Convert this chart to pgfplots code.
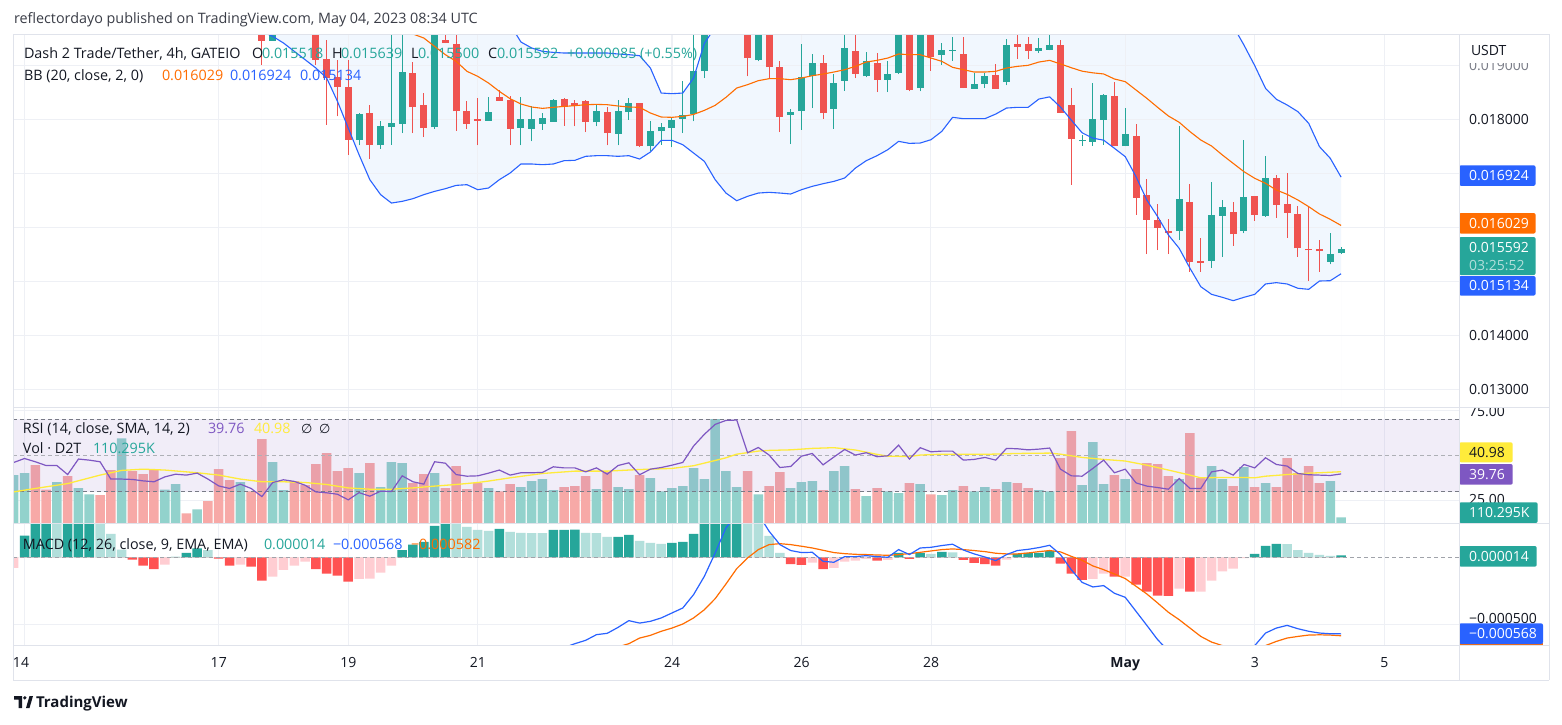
\documentclass[border=0pt]{standalone}
\usepackage{fontspec}
\setmainfont{Open Sans}
\newfontfamily\dejavu{DejaVu Sans}
\usepackage{pgfplots}
\usepackage{pgfplotstable}
\pgfplotsset{compat=1.18}

\definecolor{tvup}{HTML}{26A69A}
\definecolor{tvdn}{HTML}{EF5350}
\definecolor{tvtext}{HTML}{131722}
\definecolor{hdrgray}{HTML}{3A3D47}
\definecolor{tvgrid}{HTML}{EEF0F5}
\definecolor{tvsep}{HTML}{E0E3EB}
\definecolor{bbblue}{HTML}{2962FF}
\definecolor{bborange}{HTML}{FF6D00}
\definecolor{bbf}{HTML}{F1F7FE}
\definecolor{rsipurple}{HTML}{7E57C2}
\definecolor{rsiyellow}{HTML}{FFEB3B}
\definecolor{volup}{HTML}{92D2CC}
\definecolor{voldn}{HTML}{F7A9A7}
\definecolor{hdt}{HTML}{26A69A}
\definecolor{hlt}{HTML}{B2DFDB}
\definecolor{hrd}{HTML}{FF5252}
\definecolor{hpk}{HTML}{FFCDD2}
\definecolor{dashgray}{HTML}{787B86}

\newcommand\fs{\fontsize{14}{16}\selectfont}
\newcommand\fl{\fontsize{14.35}{16}\selectfont}

\pgfplotsset{
  tvbase/.style={
    scale only axis, width=1446pt, xmin=-1.0656, xmax=132.93,
    axis line style={draw=none}, xtick=\empty, ytick=\empty,
    anchor=north west, clip=true
  }
}

% candles: index (4h bars from Apr 14 00:00), open, high, low, close
\pgfplotstableread{
i o h l c
22 0.019620 0.019680 0.019006 0.019450
23 0.019450 0.019700 0.019450 0.019650
24 0.019650 0.019900 0.019620 0.019850
25 0.019850 0.019950 0.019700 0.019750
26 0.019750 0.019800 0.019600 0.019650
27 0.019650 0.019700 0.019006 0.019099
28 0.019111 0.019469 0.017895 0.018759
29 0.018771 0.019099 0.018049 0.018592
30 0.018592 0.019099 0.017339 0.017617
31 0.017617 0.018110 0.017512 0.018092
32 0.018111 0.018253 0.017265 0.017512
33 0.017512 0.017957 0.017450 0.017864
34 0.017852 0.019600 0.017524 0.017926
35 0.017913 0.019600 0.017740 0.018870
36 0.018852 0.019049 0.017740 0.018222
37 0.018259 0.018481 0.017666 0.017833
38 0.017845 0.019700 0.017821 0.019650
39 0.019469 0.019650 0.019407 0.019407
40 0.019389 0.019620 0.017784 0.018142
41 0.018148 0.018339 0.017821 0.017913
42 0.018006 0.018389 0.017512 0.017969
43 0.017969 0.018407 0.017969 0.018129
44 0.018407 0.018531 0.018339 0.018339
45 0.018358 0.018420 0.017512 0.017821
46 0.017833 0.018407 0.017512 0.018000
47 0.017821 0.018234 0.017586 0.018000
48 0.017913 0.018111 0.017802 0.018018
49 0.017950 0.018376 0.017950 0.018358
50 0.018370 0.018389 0.017876 0.018222
51 0.018296 0.018358 0.017864 0.018234
52 0.018333 0.018358 0.017759 0.017944
53 0.017938 0.018253 0.017864 0.018148
54 0.018129 0.018216 0.017512 0.017740
55 0.017728 0.018358 0.017512 0.018148
56 0.018123 0.018389 0.017987 0.018296
57 0.018296 0.018300 0.017490 0.017494
58 0.017494 0.017957 0.017413 0.017771
59 0.017771 0.017926 0.017524 0.017852
60 0.017839 0.018031 0.017475 0.017981
61 0.018006 0.018710 0.017740 0.018068
62 0.018092 0.019600 0.017957 0.018895
63 0.018883 0.019700 0.018759 0.019650
64 0.019650 0.020100 0.019600 0.020000
65 0.020000 0.020300 0.019900 0.020200
66 0.019900 0.020300 0.019800 0.020100
67 0.019800 0.019850 0.018790 0.019129
68 0.019086 0.019700 0.019068 0.019650
69 0.019650 0.019700 0.018759 0.018963
70 0.018963 0.019068 0.017759 0.018037
71 0.018080 0.018185 0.017537 0.018129
72 0.018148 0.019395 0.017802 0.018778
73 0.018802 0.019204 0.018203 0.019037
74 0.019037 0.019179 0.018006 0.018111
75 0.018191 0.018839 0.017821 0.018666
76 0.018710 0.019600 0.018524 0.019315
77 0.019253 0.019600 0.018759 0.018839
78 0.018790 0.019241 0.018771 0.019068
79 0.019037 0.019222 0.018500 0.018728
80 0.018728 0.019080 0.018500 0.018833
81 0.018852 0.019700 0.018833 0.019650
82 0.019650 0.019700 0.018512 0.018543
83 0.018574 0.019700 0.018512 0.019650
84 0.019650 0.019700 0.018895 0.019148
85 0.019191 0.019407 0.019006 0.019271
86 0.019265 0.019518 0.019080 0.019278
87 0.019204 0.019518 0.018570 0.018574
88 0.018562 0.018852 0.018560 0.018648
89 0.018648 0.018852 0.018574 0.018790
90 0.018808 0.019018 0.018560 0.018562
91 0.018685 0.019481 0.018623 0.019364
92 0.019389 0.019600 0.019117 0.019339
93 0.019389 0.019518 0.019117 0.019265
94 0.019265 0.019500 0.019222 0.019315
95 0.019284 0.019600 0.019271 0.019364
96 0.019364 0.019457 0.018111 0.018115
97 0.018257 0.018571 0.016780 0.017633
98 0.017590 0.017710 0.017506 0.017600
99 0.017578 0.018664 0.017506 0.018000
100 0.017985 0.018466 0.017522 0.018448
101 0.018426 0.018692 0.017495 0.017502
102 0.017500 0.018198 0.017495 0.017723
103 0.017686 0.017908 0.016223 0.016544
104 0.016593 0.016889 0.015500 0.016130
105 0.016130 0.016426 0.015574 0.015988
106 0.015926 0.016148 0.015500 0.015895
107 0.015926 0.017871 0.015760 0.016519
108 0.016457 0.016797 0.015173 0.015358
109 0.015371 0.015790 0.015173 0.015340
110 0.015371 0.016828 0.015247 0.016223
111 0.016210 0.016500 0.015451 0.016377
112 0.016272 0.016457 0.015655 0.015865
113 0.015926 0.017612 0.015883 0.016562
114 0.016574 0.016580 0.016118 0.016223
115 0.016210 0.017315 0.016192 0.016902
116 0.016902 0.016963 0.016173 0.016408
117 0.016426 0.016994 0.015803 0.016266
118 0.016241 0.016395 0.015451 0.015605
119 0.015593 0.016377 0.015006 0.015568
120 0.015593 0.015760 0.015173 0.015550
121 0.015358 0.015883 0.015309 0.015500
122 0.015518 0.015639 0.015500 0.015592
}\candles

% Bollinger bands: upper, basis, lower
\pgfplotstableread{
i u m l
22 0.021000 0.020300 0.019620
23 0.021000 0.020250 0.019531
24 0.021000 0.020200 0.019407
25 0.021000 0.020150 0.019253
26 0.021000 0.020100 0.019099
27 0.021000 0.020050 0.018944
28 0.021000 0.020000 0.018759
29 0.021000 0.019950 0.018327
30 0.021000 0.019900 0.017833
31 0.021000 0.019850 0.017339
32 0.021000 0.019800 0.016876
33 0.021000 0.019750 0.016599
34 0.021000 0.019700 0.016444
35 0.021000 0.019650 0.016475
36 0.021000 0.019574 0.016525
37 0.021000 0.019500 0.016599
38 0.021000 0.019345 0.016660
39 0.021000 0.019191 0.016710
40 0.021000 0.019068 0.016771
41 0.021000 0.018883 0.016784
42 0.020900 0.018790 0.016691
43 0.020600 0.018666 0.016722
44 0.020148 0.018512 0.016876
45 0.019752 0.018376 0.017000
46 0.019426 0.018278 0.017167
47 0.019315 0.018222 0.017167
48 0.019253 0.018197 0.017154
49 0.019234 0.018216 0.017167
50 0.019222 0.018234 0.017228
51 0.019222 0.018247 0.017235
52 0.019222 0.018265 0.017309
53 0.019222 0.018271 0.017321
54 0.019222 0.018265 0.017321
55 0.019204 0.018241 0.017309
56 0.019191 0.018222 0.017321
57 0.019173 0.018216 0.017259
58 0.018944 0.018111 0.017389
59 0.018481 0.018037 0.017605
60 0.018469 0.018031 0.017605
61 0.018481 0.018049 0.017524
62 0.018759 0.018085 0.017370
63 0.019400 0.018160 0.017216
64 0.019700 0.018253 0.016876
65 0.020173 0.018401 0.016629
66 0.020661 0.018574 0.016487
67 0.020704 0.018636 0.016568
68 0.020791 0.018710 0.016629
69 0.020852 0.018747 0.016642
70 0.020865 0.018747 0.016629
71 0.020845 0.018728 0.016611
72 0.020827 0.018759 0.016691
73 0.020851 0.018802 0.016753
74 0.020864 0.018833 0.016802
75 0.020895 0.018870 0.016845
76 0.020919 0.018913 0.016907
77 0.020858 0.018975 0.017092
78 0.020882 0.019055 0.017228
79 0.020851 0.019086 0.017321
80 0.020826 0.019129 0.017432
81 0.020822 0.019204 0.017586
82 0.020833 0.019191 0.017549
83 0.020827 0.019191 0.017555
84 0.020641 0.019129 0.017617
85 0.020365 0.019068 0.017771
86 0.019883 0.018957 0.018031
87 0.019820 0.018913 0.018006
88 0.019734 0.018870 0.018006
89 0.019734 0.018870 0.018006
90 0.019674 0.018883 0.018092
91 0.019685 0.018944 0.018203
92 0.019734 0.018975 0.018216
93 0.019772 0.018994 0.018216
94 0.019740 0.019055 0.018370
95 0.019765 0.019086 0.018410
96 0.019820 0.019020 0.018220
97 0.019920 0.018950 0.017980
98 0.020020 0.018886 0.017745
99 0.020050 0.018855 0.017645
100 0.020045 0.018834 0.017608
101 0.020025 0.018741 0.017457
102 0.020081 0.018692 0.017303
103 0.020142 0.018537 0.016932
104 0.020266 0.018383 0.016500
105 0.020240 0.018216 0.016192
106 0.020260 0.018056 0.015852
107 0.020273 0.017939 0.015605
108 0.020297 0.017766 0.015235
109 0.020327 0.017611 0.014895
110 0.020247 0.017500 0.014753
111 0.019970 0.017334 0.014698
112 0.019722 0.017179 0.014636
113 0.019370 0.017025 0.014698
114 0.018988 0.016902 0.014753
115 0.018568 0.016809 0.014945
116 0.018365 0.016686 0.014970
117 0.018260 0.016605 0.014945
118 0.018136 0.016500 0.014865
119 0.017920 0.016377 0.014846
120 0.017488 0.016241 0.015000
121 0.017272 0.016142 0.015006
122 0.016924 0.016029 0.015134
}\bb

% volume in thousands, u=1 up bar
\pgfplotstableread{
i v u
-1 883 1
0 920 1
1 1067 0
2 619 0
3 754 1
4 864 0
5 644 1
6 533 1
7 515 0
8 975 0
9 1557 1
10 956 0
11 901 0
12 975 0
13 619 1
14 717 1
15 184 0
16 257 1
17 405 0
18 993 0
19 791 0
20 754 1
21 588 0
22 1545 0
23 1122 1
24 607 1
25 772 0
26 699 0
27 1085 0
28 1287 0
29 956 0
30 1011 0
31 920 1
32 1103 0
33 662 1
34 1122 1
35 1103 1
36 736 0
37 901 0
38 920 1
39 644 0
40 1048 0
41 625 0
42 736 0
43 644 1
44 588 0
45 717 0
46 662 1
47 772 1
48 809 1
49 607 1
50 662 0
51 680 0
52 864 0
53 625 1
54 938 0
55 662 1
56 625 1
57 883 0
58 828 1
59 588 1
60 644 1
61 680 1
62 1011 1
63 809 1
64 1913 1
65 956 1
66 662 1
67 956 0
68 533 1
69 680 0
70 938 0
71 644 1
72 754 1
73 772 1
74 607 0
75 956 1
76 1048 1
77 625 0
78 497 1
79 644 0
80 588 1
81 552 1
82 736 0
83 717 1
84 533 0
85 515 1
86 607 1
87 680 0
88 588 1
89 662 1
90 625 0
91 754 1
92 736 0
93 644 0
94 607 1
95 588 1
96 1195 0
97 1692 0
98 699 1
99 1490 1
100 717 1
101 883 0
102 809 1
103 993 0
104 1103 0
105 1085 0
106 864 0
107 809 1
108 1655 0
109 828 0
110 1048 1
111 809 1
112 680 0
113 1030 1
114 662 0
115 736 1
116 662 0
117 1195 0
118 920 0
119 1048 0
120 736 0
121 772 1
122 110.295 1
}\vol

\pgfplotstableread{
i r
-1 46.1
0 48.3
1 46.5
2 44.4
3 44.4
4 39.4
5 48.0
6 47.4
7 46.5
8 36.9
9 36.9
10 36.7
11 35.9
12 35.4
13 38.1
14 39.6
15 39.1
16 40.2
17 36.9
18 33.1
19 31.7
20 34.1
21 31.7
22 27.2
23 35.0
24 36.5
25 35.6
26 33.5
27 29.8
28 29.3
29 28.5
30 25.4
31 29.4
32 27.4
33 30.2
34 30.0
35 38.7
36 35.4
37 34.1
38 46.5
39 45.7
40 39.4
41 38.5
42 38.7
43 40.2
44 41.9
45 39.1
46 40.4
47 40.4
48 40.6
49 43.7
50 43.1
51 43.1
52 40.9
53 43.1
54 39.6
55 44.4
56 45.9
57 39.3
58 42.4
59 43.3
60 44.6
61 46.1
62 55.2
63 61.7
64 67.2
65 69.4
66 69.6
67 51.5
68 54.4
69 50.2
70 43.3
71 43.9
72 49.6
73 51.1
74 44.8
75 49.1
76 53.3
77 50.2
78 51.5
79 49.3
80 49.8
81 55.7
82 48.0
83 54.3
84 52.0
85 52.4
86 52.4
87 47.4
88 47.8
89 48.9
90 47.4
91 53.9
92 53.7
93 53.1
94 53.5
95 54.1
96 42.4
97 38.7
98 38.5
99 42.8
100 47.4
101 40.4
102 42.4
103 34.8
104 33.0
105 32.2
106 31.3
107 37.2
108 31.7
109 31.7
110 40.9
111 41.9
112 39.1
113 45.0
114 43.1
115 48.7
116 45.0
117 44.1
118 40.0
119 39.3
120 39.1
121 38.9
122 39.76
}\rsi

\pgfplotstableread{
i s
-1 29.8
1 31.7
4 34.4
7 39.1
9 41.7
11 42.4
13 41.9
16 40.4
18 39.1
20 36.9
22 35.4
24 35.4
26 35.0
28 33.9
30 32.0
32 31.3
34 31.3
36 32.0
38 33.0
40 33.9
42 35.0
43 35.8
45 37.6
48 40.0
51 41.3
54 41.3
57 42.2
60 42.8
62 44.3
64 47.2
65 48.7
66 50.7
68 52.4
69 52.8
71 53.1
73 53.9
75 54.3
77 53.0
79 50.6
80 49.6
82 49.4
83 50.2
85 50.7
86 50.7
89 50.6
92 51.1
95 51.3
96 50.7
98 48.9
100 47.8
102 46.9
104 44.6
106 41.9
108 39.1
109 37.6
111 37.8
113 37.8
114 37.6
115 38.5
117 39.4
119 40.2
120 40.4
122 40.98
}\sma

% MACD histogram, k: 1 rising>0, 2 falling>0, 3 falling<0, 4 rising<0
\pgfplotstableread{
i v k
-1 -0.000079 4
0 0.000161 1
1 0.000270 1
2 0.000300 1
3 0.000280 2
4 0.000300 1
5 0.000320 1
6 0.000340 1
7 0.000260 2
8 0.000173 2
9 0.000057 2
10 -0.000017 3
11 -0.000062 3
12 -0.000087 3
13 -0.000054 4
14 0.000003 1
15 0.000032 1
16 0.000067 1
17 0.000054 2
18 -0.000010 3
19 -0.000062 3
20 -0.000054 4
21 -0.000069 3
22 -0.000173 3
23 -0.000144 4
24 -0.000094 4
25 -0.000062 4
26 -0.000032 4
27 -0.000087 3
28 -0.000121 3
29 -0.000136 3
30 -0.000181 3
31 -0.000161 4
32 -0.000159 4
33 -0.000114 4
34 -0.000062 4
35 0.000054 1
36 0.000094 1
37 0.000114 1
38 0.000233 1
39 0.000270 1
40 0.000260 2
41 0.000225 2
42 0.000203 2
43 0.000196 2
44 0.000210 1
45 0.000188 2
46 0.000181 2
47 0.000180 2
48 0.000179 2
49 0.000203 1
50 0.000204 1
51 0.000205 1
52 0.000181 2
53 0.000180 2
54 0.000151 2
55 0.000152 1
56 0.000166 1
57 0.000121 2
58 0.000106 2
59 0.000099 2
60 0.000106 1
61 0.000114 1
62 0.000173 1
63 0.000280 1
64 0.000320 1
65 0.000350 1
66 0.000384 1
67 0.000335 2
68 0.000263 2
69 0.000158 2
70 0.000032 2
71 -0.000050 3
72 -0.000057 3
73 -0.000040 4
74 -0.000087 3
75 -0.000079 4
76 -0.000032 4
77 -0.000025 4
78 -0.000012 4
79 -0.000025 3
80 -0.000020 4
81 0.000032 1
82 -0.000012 3
83 0.000032 1
84 0.000025 2
85 0.000040 1
86 0.000037 2
87 -0.000020 3
88 -0.000042 3
89 -0.000050 3
90 -0.000062 3
91 -0.000017 4
92 0.000025 1
93 0.000032 1
94 0.000033 1
95 0.000045 1
96 -0.000047 3
97 -0.000121 3
98 -0.000168 3
99 -0.000161 4
100 -0.000121 4
101 -0.000144 3
102 -0.000143 4
103 -0.000203 3
104 -0.000255 3
105 -0.000285 3
106 -0.000286 3
107 -0.000233 4
108 -0.000255 3
109 -0.000254 4
110 -0.000173 4
111 -0.000104 4
112 -0.000084 4
113 -0.000007 4
114 0.000025 1
115 0.000084 1
116 0.000099 1
117 0.000098 2
118 0.000054 2
119 0.000032 2
120 0.000017 2
121 0.000010 2
122 0.000014 1
}\hist

% MACD line m and signal s
\pgfplotstableread{
i m s
50 -0.000670 -0.000800
51 -0.000641 -0.000780
52 -0.000616 -0.000750
53 -0.000574 -0.000720
54 -0.000564 -0.000690
55 -0.000520 -0.000665
56 -0.000470 -0.000641
57 -0.000488 -0.000599
58 -0.000475 -0.000579
59 -0.000450 -0.000549
60 -0.000413 -0.000525
61 -0.000376 -0.000495
62 -0.000277 -0.000450
63 -0.000141 -0.000389
64 0.000032 -0.000307
65 0.000218 -0.000198
66 0.000320 -0.000084
67 0.000340 -0.000005
68 0.000320 0.000057
69 0.000193 0.000094
70 0.000094 0.000101
71 0.000050 0.000094
72 0.000035 0.000082
73 0.000037 0.000069
74 -0.000030 0.000052
75 -0.000037 0.000035
76 0.000005 0.000027
77 0.000005 0.000022
78 0.000012 0.000020
79 0.000005 0.000017
80 0.000000 0.000015
81 0.000057 0.000020
82 0.000020 0.000027
83 0.000069 0.000037
84 0.000074 0.000047
85 0.000087 0.000057
86 0.000097 0.000062
87 0.000054 0.000057
88 0.000025 0.000050
89 0.000002 0.000042
90 -0.000025 0.000030
91 0.000020 0.000025
92 0.000050 0.000025
93 0.000059 0.000032
94 0.000072 0.000042
95 0.000089 0.000050
96 0.000020 0.000040
97 -0.000092 0.000007
98 -0.000186 -0.000022
99 -0.000220 -0.000064
100 -0.000210 -0.000092
101 -0.000267 -0.000124
102 -0.000297 -0.000158
103 -0.000401 -0.000215
104 -0.000505 -0.000272
105 -0.000611 -0.000339
106 -0.000694 -0.000408
107 -0.000696 -0.000463
108 -0.000780 -0.000525
109 -0.000841 -0.000587
110 -0.000802 -0.000629
111 -0.000759 -0.000655
112 -0.000764 -0.000680
113 -0.000697 -0.000690
114 -0.000655 -0.000680
115 -0.000562 -0.000655
116 -0.000525 -0.000624
117 -0.000505 -0.000599
118 -0.000530 -0.000587
119 -0.000549 -0.000577
120 -0.000562 -0.000575
121 -0.000567 -0.000577
122 -0.000568 -0.000582
}\macd

\begin{document}
\begin{tikzpicture}
\path[use as bounding box, fill=white] (0pt,0pt) rectangle (1562pt,-724pt);

% background grid
\begin{scope}[x=1pt,y=-1pt]
\foreach \gx in {24.5,218.75,348.25,477.75,672,801.5,931,1125.25,1254.75,1384.25}
  \draw[tvgrid, line width=1pt] (\gx,34) -- (\gx,645.3);
\foreach \gy in {65,119,173,227,281,335,389,410.3,500.3,624.7}
  \draw[tvgrid, line width=1pt] (13,\gy) -- (1459,\gy);
\end{scope}

% ---------- volume (overlay in RSI pane)
\begin{axis}[tvbase, at={(13pt,-407pt)}, height=116.3pt, ymin=0, ymax=2133]
\addplot[ybar, bar width=9.5pt, bar shift=0pt, fill=volup, draw=none]
  table[x=i, y expr={(\thisrow{u}==1) ? \thisrow{v} : 0}] {\vol};
\addplot[ybar, bar width=9.5pt, bar shift=0pt, fill=voldn, draw=none]
  table[x=i, y expr={(\thisrow{u}==0) ? \thisrow{v} : 0}] {\vol};
\end{axis}

% ---------- RSI
\begin{axis}[tvbase, at={(13pt,-407pt)}, height=116.3pt, ymin=12.39, ymax=76.83]
\fill[rsipurple, fill opacity=0.1] (axis cs:-1.0656,30) rectangle (axis cs:132.93,70);
\draw[dashgray, line width=1pt, dash pattern=on 4pt off 3pt] (axis cs:-1.0656,70) -- (axis cs:132.93,70);
\draw[dashgray!60, line width=1pt, dash pattern=on 4pt off 3pt] (axis cs:-1.0656,50) -- (axis cs:132.93,50);
\draw[dashgray, line width=1pt, dash pattern=on 4pt off 3pt] (axis cs:-1.0656,30) -- (axis cs:132.93,30);
\addplot[rsiyellow, line width=1.3pt] table[x=i, y=s] {\sma};
\addplot[rsipurple, line width=1.2pt] table[x=i, y=r] {\rsi};
\end{axis}

% ---------- MACD
\begin{axis}[tvbase, at={(13pt,-523.3pt)}, height=122pt, ymin=-0.000653, ymax=0.000252]
\addplot[ybar, bar width=9.5pt, bar shift=0pt, fill=hdt, draw=none]
  table[x=i, y expr={(\thisrow{k}==1) ? \thisrow{v} : 0}] {\hist};
\addplot[ybar, bar width=9.5pt, bar shift=0pt, fill=hlt, draw=none]
  table[x=i, y expr={(\thisrow{k}==2) ? \thisrow{v} : 0}] {\hist};
\addplot[ybar, bar width=9.5pt, bar shift=0pt, fill=hrd, draw=none]
  table[x=i, y expr={(\thisrow{k}==3) ? \thisrow{v} : 0}] {\hist};
\addplot[ybar, bar width=9.5pt, bar shift=0pt, fill=hpk, draw=none]
  table[x=i, y expr={(\thisrow{k}==4) ? \thisrow{v} : 0}] {\hist};
\draw[dashgray!70, line width=1pt, dash pattern=on 4pt off 3pt] (axis cs:-1.0656,0) -- (axis cs:132.93,0);
\addplot[bborange, line width=1.2pt] table[x=i, y=s] {\macd};
\addplot[bbblue, line width=1.2pt] table[x=i, y=m] {\macd};
\end{axis}

% ---------- price
\begin{axis}[tvbase, at={(13pt,-34pt)}, height=373pt, ymin=0.0126667, ymax=0.0195741]
\addplot[fill=bbf, draw=none] table[x=i, y=u] {\bb} \closedcycle;
\addplot[fill=white, draw=none] table[x=i, y=l] {\bb} \closedcycle;
\draw[tvgrid, line width=1pt] (axis cs:-1.0656,0.019) -- (axis cs:132.93,0.019);
\draw[tvgrid, line width=1pt] (axis cs:-1.0656,0.018) -- (axis cs:132.93,0.018);
\draw[tvgrid, line width=1pt] (axis cs:-1.0656,0.017) -- (axis cs:132.93,0.017);
\draw[tvgrid, line width=1pt] (axis cs:-1.0656,0.016) -- (axis cs:132.93,0.016);
\draw[tvgrid, line width=1pt] (axis cs:-1.0656,0.015) -- (axis cs:132.93,0.015);
\draw[tvgrid, line width=1pt] (axis cs:-1.0656,0.014) -- (axis cs:132.93,0.014);
\draw[tvgrid, line width=1pt] (axis cs:-1.0656,0.013) -- (axis cs:132.93,0.013);
\draw[tvgrid, line width=1pt] (axis cs:30,0.0126) -- (axis cs:30,0.0196);
\draw[tvgrid, line width=1pt] (axis cs:42,0.0126) -- (axis cs:42,0.0196);
\draw[tvgrid, line width=1pt] (axis cs:60,0.0126) -- (axis cs:60,0.0196);
\draw[tvgrid, line width=1pt] (axis cs:72,0.0126) -- (axis cs:72,0.0196);
\draw[tvgrid, line width=1pt] (axis cs:84,0.0126) -- (axis cs:84,0.0196);
\draw[tvgrid, line width=1pt] (axis cs:102,0.0126) -- (axis cs:102,0.0196);
\draw[tvgrid, line width=1pt] (axis cs:114,0.0126) -- (axis cs:114,0.0196);
% wicks (segment from low to high)
\addplot[tvup, line width=1pt, quiver={u=0, v={\thisrow{h}-\thisrow{l}}}]
  table[x=i, y expr={(\thisrow{c}>=\thisrow{o}) ? \thisrow{l} : 0.03}] {\candles};
\addplot[tvdn, line width=1pt, quiver={u=0, v={\thisrow{h}-\thisrow{l}}}]
  table[x=i, y expr={(\thisrow{c}<\thisrow{o}) ? \thisrow{l} : 0.03}] {\candles};
% bodies (segment from open to close)
\addplot[tvup, line width=7pt, quiver={u=0, v={max(abs(\thisrow{c}-\thisrow{o}),0.0000186)}}]
  table[x=i, y expr={(\thisrow{c}>=\thisrow{o}) ? min(\thisrow{o},\thisrow{c}) : 0.03}] {\candles};
\addplot[tvdn, line width=7pt, quiver={u=0, v={max(abs(\thisrow{c}-\thisrow{o}),0.0000186)}}]
  table[x=i, y expr={(\thisrow{c}<\thisrow{o}) ? min(\thisrow{o},\thisrow{c}) : 0.03}] {\candles};
\addplot[bbblue, line width=1.1pt] table[x=i, y=u] {\bb};
\addplot[bbblue, line width=1.1pt] table[x=i, y=l] {\bb};
\addplot[bborange, line width=1.1pt] table[x=i, y=m] {\bb};
\end{axis}

% ---------- texts, tags, frame
\begin{scope}[x=1pt,y=-1pt, t/.style={anchor=west, inner sep=0pt, outer sep=0pt,
   text height=10.5pt, text depth=0.5pt, font=\fs, text=tvtext},
   tl/.style={t, font=\fl}]
\node[tl, text=hdrgray] at (14,18) {reflectordayo published on TradingView.com, May 04, 2023 08:34 UTC};

\node[tl] at (24,53) {Dash 2 Trade/Tether, 4h, GATEIO};
\node[tl] at (252,53) {O};  \node[tl, text=tvup] at (262,53) {0.015518};
\node[tl] at (332,53) {H};  \node[tl, text=tvup] at (341,53) {0.015639};
\node[tl] at (411,53) {L};  \node[tl, text=tvup] at (418,53) {0.015500};
\node[tl] at (488,53) {C};  \node[tl, text=tvup] at (497,53) {0.015592};
\node[tl, text=tvup] at (567,53) {+0.000085 (+0.55\%)};

\node[tl] at (24,75) {BB (20, close, 2, 0)};
\node[tl, text=bborange] at (162,75) {0.016029};
\node[tl, text=bbblue] at (230,75) {0.016924};
\node[tl, text=bbblue] at (300,75) {0.015134};

\node[tl] at (23,428) {RSI (14, close, SMA, 14, 2)};
\node[tl, text=rsipurple] at (208,428) {39.76};
\node[tl, text=rsiyellow] at (254,428) {40.98};
\node[t, font={\dejavu\fontsize{13}{15}\selectfont}] at (301,428) {∅};
\node[t, font={\dejavu\fontsize{13}{15}\selectfont}] at (319,428) {∅};
\node[tl] at (23,448) {Vol · D2T};
\node[tl, text=tvup] at (93,448) {110.295K};

\node[tl] at (23,544) {MACD (12, 26, close, 9, EMA, EMA)};
\node[tl, text=tvup] at (264,544) {0.000014};
\node[tl, text=bbblue] at (333,544) {−0.000568};
\node[tl, text=bborange] at (411,544) {−0.000582};

% right axis labels
\node[t, text=dashgray] at (1469,65) {0.019000};
\fill[white] (1460,35) rectangle (1548,62.5);
\node[t] at (1471,50) {USDT};
\node[t] at (1469,119) {0.018000};
\node[t] at (1469,335) {0.014000};
\node[t] at (1469,389) {0.013000};
\begin{scope}
\clip (1460,407) rectangle (1548,523);
\node[t] at (1469,411) {75.00};
\end{scope}
\node[t] at (1469,499) {25.00};
\begin{scope}
\clip (1460,600) rectangle (1548,623);
\node[t] at (1469,618) {−0.000500};
\end{scope}

% price tags
\fill[bbblue, rounded corners=2pt] (1459,165.3) rectangle (1535.6,185.8);
\node[t, text=white] at (1469,175.5) {0.016924};
\fill[bborange, rounded corners=2pt] (1459,213) rectangle (1535.6,233.6);
\node[t, text=white] at (1469,223.3) {0.016029};
\fill[tvup, rounded corners=2pt] (1459,237) rectangle (1535.6,275);
\node[t, text=white] at (1469,247) {0.015592};
\node[t, text=hlt] at (1469,265.5) {03:25:52};
\fill[bbblue, rounded corners=2pt] (1459,276) rectangle (1535.6,295.6);
\node[t, text=white] at (1469,285.8) {0.015134};

\fill[rsiyellow, rounded corners=2pt] (1459,442.3) rectangle (1512.7,462.3);
\node[t] at (1469,452.3) {40.98};
\fill[rsipurple, rounded corners=2pt] (1459,464) rectangle (1512.7,484.7);
\node[t, text=white] at (1469,474.3) {39.76};
\fill[tvup, rounded corners=2pt] (1459,502.3) rectangle (1537.7,523);
\node[t, text=white] at (1469,512.6) {110.295K};
\fill[tvup, rounded corners=2pt] (1459,546) rectangle (1536.7,566.7);
\node[t, text=white] at (1469,556.3) {0.000014};
\fill[bborange] (1459,643) rectangle (1543,645.3);
\fill[bbblue, rounded corners=2pt] (1459,623.3) rectangle (1543,644);
\node[t, text=white] at (1469,633.6) {−0.000568};

% time axis
\foreach \tx/\tl in {21/14,218.75/17,348.25/19,477.75/21,672/24,801.5/26,931/28,1254.75/3,1384.25/5}
  \node[t, anchor=center] at (\tx,662) {\tl};
\node[t, anchor=center, font=\fs\bfseries] at (1125.25,662) {May};

% frame
\draw[tvsep, line width=1pt] (13,34) -- (1549,34);
\draw[tvsep, line width=1pt] (13,407) -- (1549,407);
\draw[tvsep, line width=1pt] (13,523.3) -- (1549,523.3);
\draw[tvsep, line width=1pt] (13,645.3) -- (1549,645.3);
\draw[tvsep, line width=1pt] (13,680) -- (1549,680);
\draw[tvsep, line width=1pt] (13,34) -- (13,680);
\draw[tvsep, line width=1pt] (1459,34) -- (1459,680);
\draw[tvsep, line width=1pt] (1549,34) -- (1549,680);

% TradingView logo
\fill[tvtext] (14,696) -- (22,696) -- (22,708) -- (18.5,708) -- (18.5,699.5) -- (14,699.5) -- cycle;
\fill[tvtext] (24.8,697.8) circle (1.8pt);
\fill[tvtext] (26,708) -- (29.5,696) -- (33,696) -- (29.5,708) -- cycle;
\node[t, font={\fontsize{15}{17}\selectfont\bfseries}] at (36,702) {TradingView};
\end{scope}
\end{tikzpicture}
\end{document}
